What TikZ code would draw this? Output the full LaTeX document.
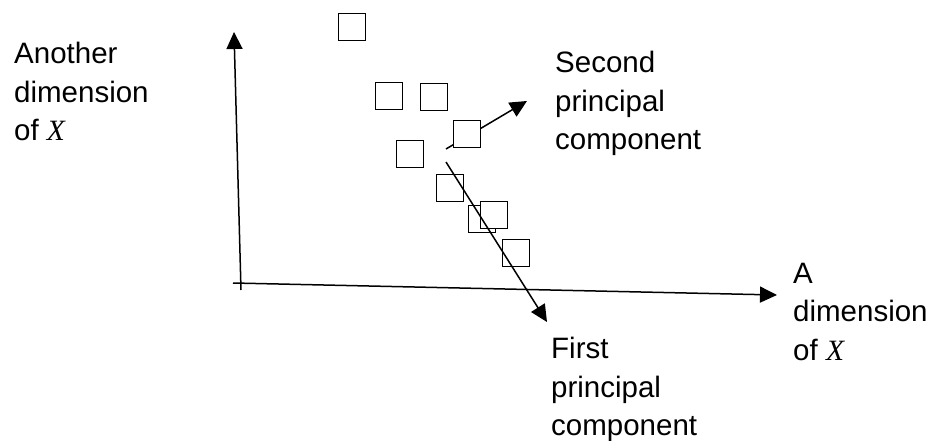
\documentclass[tikz,border=0pt]{standalone}
\usepackage{fontspec}
\setmainfont{Liberation Sans}
\newfontfamily\tnr{Liberation Serif}
\usetikzlibrary{arrows.meta}
\newcommand{\varX}{{\tnr\itshape X}}
\begin{document}
\begin{tikzpicture}[x=1pt,y=-1pt,
  pt/.style={draw,fill=white,line width=1.3pt,minimum size=27pt,inner sep=0pt},
  ax/.style={line width=1.5pt,-{Triangle[length=17pt,width=16pt]}},
  lbl/.style={align=left,anchor=north west,inner sep=0pt,font=\fontsize{29.5}{38.5}\selectfont}]
\useasboundingbox (0,0) rectangle (930,441);
% axes
\coordinate (o1) at (241,290);
\coordinate (ytip) at (234,32);
\coordinate (o2) at (233,283);
\coordinate (xtip) at (777,295);
\draw[ax] (o1) -- (ytip);
\draw[ax] (o2) -- (xtip);
% second principal component
\coordinate (s0) at (446,149);
\coordinate (s1) at (527,101);
\draw[ax] (s0) -- (s1);
% data points
\node[pt] (p1) at (352,27) {};
\node[pt] (p2) at (389,96) {};
\node[pt] (p3) at (434,97) {};
\node[pt] (p4) at (467,134) {};
\node[pt] (p5) at (410,154) {};
\node[pt] (p6) at (450,188) {};
\node[pt] (p7) at (482,219) {};
\node[pt] (p8) at (494,215) {};
\node[pt] (p9) at (516,253) {};
% first principal component
\coordinate (f0) at (446,162);
\coordinate (f1) at (547,322);
\draw[ax] (f0) -- (f1);
% labels
\node[lbl] (ly) at (14,42) {Another\\dimension\\of \varX};
\node[lbl] (ls) at (555,51) {Second\\principal\\component};
\node[lbl] (lf) at (551,337) {First\\principal\\component};
\node[lbl] (lx) at (793,263) {A\\dimension\\of \varX};
\end{tikzpicture}
\end{document}
